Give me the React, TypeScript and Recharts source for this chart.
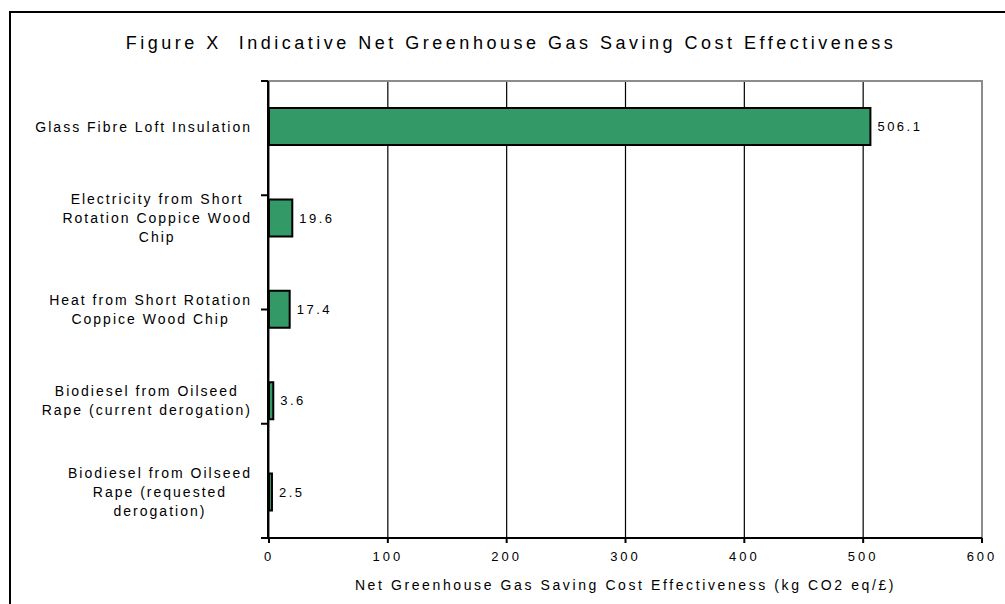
import { BarChart, Bar, XAxis, YAxis, CartesianGrid, LabelList, ReferenceArea } from "recharts";

const categories = [
  "Glass Fibre Loft Insulation",
  "Electricity from Short|Rotation Coppice Wood|Chip",
  "Heat from Short Rotation|Coppice Wood Chip",
  "Biodiesel from Oilseed|Rape (current derogation)",
  "Biodiesel from Oilseed|Rape (requested|derogation)",
];
const values = [506.1, 19.6, 17.4, 3.6, 2.5];
const xTicks = [0, 100, 200, 300, 400, 500, 600];
const edgeTicks = [0, 1, 2, 3, 4, 5];

const data = categories.map((name, i) => ({ name, value: values[i] }));

const FONT = "Arial, 'Liberation Sans', Helvetica, sans-serif";
const CAT_SIZE = 14;
const CAT_SPACING = 2;
const LABEL_RIGHT = 251;

let ctx: CanvasRenderingContext2D | null = null;
function textWidth(s: string) {
  if (!ctx) ctx = document.createElement("canvas").getContext("2d");
  if (!ctx) return s.length * 8;
  ctx.font = `${CAT_SIZE}px ${FONT}`;
  return ctx.measureText(s).width + CAT_SPACING * (s.length - 1);
}

// Excel-style: lines centred within the block, block right-aligned to the axis
function CategoryTick(props: any) {
  const { y, payload } = props;
  const lines: string[] = String(payload.value).split("|");
  const lh = 19;
  const w = Math.max(...lines.map(textWidth));
  const cx = LABEL_RIGHT - w / 2;
  const start = y - ((lines.length - 1) * lh) / 2;
  return (
    <text x={cx} y={start} textAnchor="middle" fontSize={CAT_SIZE} fill="#000" fontFamily={FONT} letterSpacing={CAT_SPACING}>
      {lines.map((l, i) => (
        <tspan key={i} x={cx} y={start + i * lh} dy="0.36em">
          {l}
        </tspan>
      ))}
    </text>
  );
}

export default function App() {
  return (
    <div style={{ position: "fixed", left: 0, top: 0, width: 1005, height: 604, background: "#fff", overflow: "hidden" }}>
      <div
        style={{
          position: "absolute", left: 9, top: 11, width: 1010, height: 610,
          border: "2px solid #000", boxSizing: "border-box",
        }}
      />
      <div
        style={{
          position: "absolute", left: 0, top: 33, width: 1022, textAlign: "center",
          fontFamily: FONT, fontSize: 18, letterSpacing: 3.5, color: "#000", whiteSpace: "pre",
        }}
      >
        {"Figure X  Indicative Net Greenhouse Gas Saving Cost Effectiveness"}
      </div>
      <div style={{ position: "absolute", left: 0, top: 0 }}>
        <BarChart
          width={1005}
          height={604}
          data={data}
          layout="vertical"
          margin={{ top: 81, right: 23, left: 267, bottom: 0 }}
          barCategoryGap={0}
        >
          <CartesianGrid horizontal={false} vertical stroke="#000" strokeWidth={1.2} />
          <ReferenceArea x1={0} x2={600} yAxisId="cat" fill="none" stroke="#8c8c8c" strokeWidth={2} ifOverflow="visible" />
          <XAxis
            type="number"
            domain={[0, 600]}
            ticks={xTicks}
            height={66}
            tickSize={5}
            tickMargin={9}
            stroke="#000"
            strokeWidth={2}
            tick={{ fontSize: 13, fill: "#000", fontFamily: FONT, letterSpacing: 3 }}
            label={{
              value: "Net Greenhouse Gas Saving Cost Effectiveness (kg CO2 eq/£)",
              position: "insideBottom",
              offset: 14,
              fontSize: 14,
              fill: "#000",
              fontFamily: FONT,
              letterSpacing: 2.6,
            }}
          />
          <YAxis
            yAxisId="edge"
            type="number"
            domain={[0, 5]}
            ticks={edgeTicks}
            width={1}
            tickSize={7}
            stroke="#000"
            strokeWidth={2}
            tickFormatter={() => ""}
          />
          <YAxis
            yAxisId="cat"
            type="category"
            dataKey="name"
            width={1}
            axisLine={false}
            tickLine={false}
            tick={<CategoryTick />}
            interval={0}
          />
          <Bar
            yAxisId="cat"
            dataKey="value"
            fill="#339966"
            stroke="#000"
            strokeWidth={2}
            barSize={37}
            isAnimationActive={false}
          >
            <LabelList
              dataKey="value"
              position="right"
              offset={7}
              formatter={(v: any) => Number(v).toFixed(1)}
              fill="#000"
              fontSize={13}
              fontFamily={FONT}
              letterSpacing={2.5}
            />
          </Bar>
        </BarChart>
      </div>
    </div>
  );
}
